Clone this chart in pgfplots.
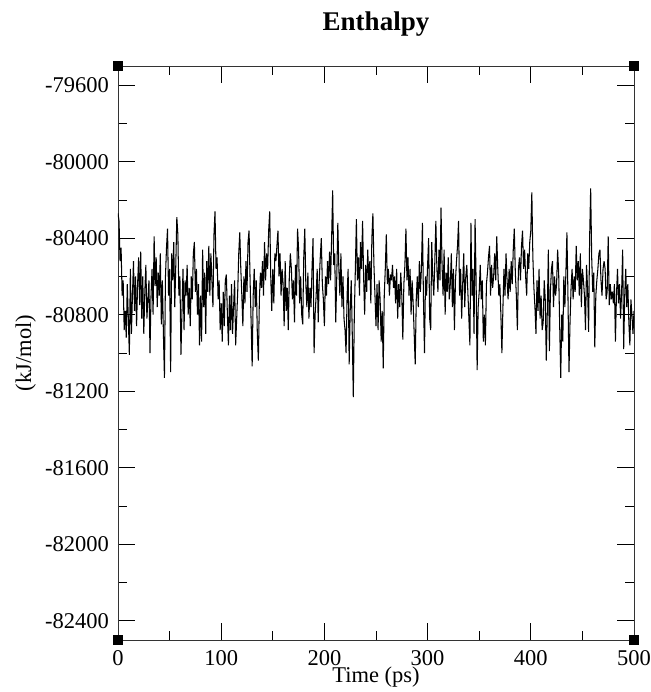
\documentclass[border=0pt]{standalone}
\usepackage{fontspec}
\setmainfont{Liberation Serif}
\usepackage{pgfplots}
\pgfplotsset{compat=1.18}
\begin{document}
\begin{tikzpicture}
\begin{axis}[
  name=ax,
  at={(0,0)}, anchor=south west,
  scale only axis,
  width=516pt, height=574pt,
  xmin=0, xmax=500, ymin=-82500, ymax=-79500,
  xtick={0,100,...,500},
  ytick={-82400,-82000,-81600,-81200,-80800,-80400,-80000,-79600},
  minor x tick num=1, minor y tick num=1,
  tick align=inside,
  major tick length=17pt, minor tick length=9pt,
  every tick/.style={black, line width=0.8pt},
  axis line style={line width=0.8pt, black!80},
  /pgf/number format/assume math mode=true,
  /pgf/number format/set thousands separator={},
  scaled y ticks=false,
  tick label style={font=\fontsize{22.5}{27}\selectfont},
  xticklabel style={anchor=base, yshift=-25pt},
  yticklabel style={anchor=east, inner sep=0pt, xshift=-9pt},
  title={Enthalpy},
  title style={font=\bfseries\fontsize{27}{32}\selectfont, at={(axis description cs:0.5,1.0505)}, anchor=base},
  xlabel={Time (ps)},
  xlabel style={font=\fontsize{22.5}{27}\selectfont, at={(axis description cs:0.5,-0.0745)}, anchor=base},
  ylabel={(kJ/mol)},
  ylabel style={font=\fontsize{22.5}{27}\selectfont, at={(axis description cs:-0.1686,0.5)}, anchor=base},
  clip mode=individual,
]
\addplot[black, line width=1.05pt, line join=miter, miter limit=2] coordinates {
(0,-80270) (1,-80310) (2,-80520) (3,-80450) (4,-80700) (5,-80620) (6,-80880) (7,-80780) (8,-80920) (9,-80640)
(10,-80820) (11,-81010) (12,-80560) (13,-80900) (14,-80700) (15,-80520) (16,-80780) (17,-80600) (18,-80860) (19,-80640)
(20,-80500) (21,-80750) (22,-80470) (23,-80820) (24,-80600) (25,-80900) (26,-80680) (27,-80540) (28,-80820) (29,-80720)
(30,-80620) (31,-81000) (32,-80700) (33,-80560) (34,-80800) (35,-80390) (36,-80650) (37,-80500) (38,-80760) (39,-80580)
(40,-80700) (41,-80480) (42,-80850) (43,-80620) (44,-80900) (45,-81130) (46,-80600) (47,-80450) (48,-80350) (49,-80700)
(50,-80560) (51,-81100) (52,-80480) (53,-80620) (54,-80420) (55,-80760) (56,-80540) (57,-80290) (58,-80380) (59,-80700)
(60,-80600) (61,-81010) (62,-80780) (63,-80560) (64,-80880) (65,-80620) (66,-80700) (67,-80540) (68,-80800) (69,-80660)
(70,-80860) (71,-80600) (72,-80720) (73,-80480) (74,-80420) (75,-80680) (76,-80560) (77,-80800) (78,-80640) (79,-80960)
(80,-80700) (81,-80940) (82,-80460) (83,-80760) (84,-80580) (85,-80900) (86,-80520) (87,-80680) (88,-80440) (89,-80700)
(90,-80480) (91,-80620) (92,-80760) (93,-80380) (94,-80260) (95,-80560) (96,-80500) (97,-80720) (98,-80620) (99,-80880)
(100,-80740) (101,-80940) (102,-80680) (103,-80860) (104,-80620) (105,-80590) (106,-80800) (107,-80960) (108,-80700) (109,-80880)
(110,-80640) (111,-80900) (112,-80760) (113,-80620) (114,-80960) (115,-80820) (116,-80680) (117,-80480) (118,-80370) (119,-80560)
(120,-80700) (121,-80860) (122,-80600) (123,-80740) (124,-80520) (125,-80680) (126,-80420) (127,-80360) (128,-80620) (129,-80840)
(130,-81070) (131,-80700) (132,-80560) (133,-80760) (134,-80620) (135,-80900) (136,-81040) (137,-80720) (138,-80580) (139,-80660)
(140,-80520) (141,-80700) (142,-80420) (143,-80620) (144,-80480) (145,-80560) (146,-80360) (147,-80260) (148,-80600) (149,-80780)
(150,-80560) (151,-80740) (152,-80480) (153,-80520) (154,-80440) (155,-80360) (156,-80600) (157,-80480) (158,-80700) (159,-80560)
(160,-80640) (161,-80860) (162,-80520) (163,-80780) (164,-80660) (165,-80880) (166,-80600) (167,-80480) (168,-80560) (169,-80720)
(170,-80620) (171,-80840) (172,-80540) (173,-80700) (174,-80350) (175,-80460) (176,-80740) (177,-80600) (178,-80800) (179,-80850)
(180,-80500) (181,-80350) (182,-80640) (183,-80760) (184,-80580) (185,-80820) (186,-80660) (187,-80760) (188,-80560) (189,-80400)
(190,-81000) (191,-80800) (192,-80700) (193,-80560) (194,-80840) (195,-80620) (196,-80500) (197,-80400) (198,-80640) (199,-80720)
(200,-80860) (201,-80600) (202,-80700) (203,-80520) (204,-80640) (205,-80470) (206,-80620) (207,-80400) (208,-80150) (209,-80540)
(210,-80480) (211,-80840) (212,-80600) (213,-80320) (214,-80560) (215,-80700) (216,-80480) (217,-80760) (218,-80600) (219,-80820)
(220,-80880) (221,-81000) (222,-80700) (223,-80560) (224,-81060) (225,-80780) (226,-80620) (227,-80900) (228,-81230) (229,-80800)
(230,-80560) (231,-80300) (232,-80620) (233,-80500) (234,-80700) (235,-80420) (236,-80560) (237,-80310) (238,-80600) (239,-80800)
(240,-80540) (241,-80680) (242,-80460) (243,-80620) (244,-80520) (245,-80740) (246,-80400) (247,-80270) (248,-80540) (249,-80700)
(250,-80860) (251,-80640) (252,-80880) (253,-80620) (254,-80720) (255,-80940) (256,-80780) (257,-81080) (258,-80700) (259,-80560)
(260,-80380) (261,-80640) (262,-80560) (263,-80700) (264,-80590) (265,-80620) (266,-80540) (267,-80660) (268,-80600) (269,-80740)
(270,-80560) (271,-80820) (272,-80640) (273,-80760) (274,-80580) (275,-80700) (276,-80930) (277,-80640) (278,-80540) (279,-80350)
(280,-80620) (281,-80500) (282,-80700) (283,-80560) (284,-80800) (285,-80620) (286,-80740) (287,-80900) (288,-81060) (289,-80720)
(290,-80600) (291,-80760) (292,-80520) (293,-80680) (294,-80560) (295,-80320) (296,-80720) (297,-81000) (298,-80600) (299,-80700)
(300,-80540) (301,-80400) (302,-80820) (303,-80880) (304,-80420) (305,-80600) (306,-80700) (307,-80520) (308,-80310) (309,-80560)
(310,-80680) (311,-80460) (312,-80620) (313,-80240) (314,-80540) (315,-80700) (316,-80460) (317,-80800) (318,-80580) (319,-80680)
(320,-80500) (321,-80720) (322,-80640) (323,-80480) (324,-80760) (325,-80560) (326,-80880) (327,-80620) (328,-80520) (329,-80440)
(330,-80310) (331,-80700) (332,-80560) (333,-80820) (334,-80640) (335,-80480) (336,-80760) (337,-80600) (338,-80540) (339,-80680)
(340,-80820) (341,-80960) (342,-80320) (343,-80700) (344,-80560) (345,-80900) (346,-80300) (347,-80620) (348,-81090) (349,-80760)
(350,-80680) (351,-80540) (352,-80720) (353,-80620) (354,-80940) (355,-80800) (356,-80960) (357,-80640) (358,-80580) (359,-80500)
(360,-80440) (361,-80700) (362,-80540) (363,-80660) (364,-80600) (365,-80480) (366,-80620) (367,-80390) (368,-80560) (369,-80700)
(370,-80640) (371,-80800) (372,-81000) (373,-80760) (374,-80560) (375,-80700) (376,-80480) (377,-80620) (378,-80720) (379,-80560)
(380,-80680) (381,-80520) (382,-80640) (383,-80460) (384,-80350) (385,-80580) (386,-80700) (387,-80880) (388,-80560) (389,-80500)
(390,-80620) (391,-80440) (392,-80360) (393,-80560) (394,-80460) (395,-80600) (396,-80700) (397,-80480) (398,-80560) (399,-80420)
(400,-80360) (401,-80160) (402,-80500) (403,-80660) (404,-80760) (405,-80900) (406,-80620) (407,-80780) (408,-80560) (409,-80820)
(410,-80700) (411,-80880) (412,-80840) (413,-80620) (414,-80720) (415,-81040) (416,-80780) (417,-80460) (418,-80990) (419,-80680)
(420,-80560) (421,-80520) (422,-80760) (423,-80600) (424,-80700) (425,-80640) (426,-80460) (427,-80580) (428,-80860) (429,-81130)
(430,-80800) (431,-80940) (432,-80600) (433,-80760) (434,-80580) (435,-80370) (436,-80700) (437,-81100) (438,-80840) (439,-80660)
(440,-80560) (441,-80720) (442,-80600) (443,-80680) (444,-80440) (445,-80620) (446,-80520) (447,-80700) (448,-80480) (449,-80760)
(450,-80560) (451,-80620) (452,-80700) (453,-80880) (454,-80540) (455,-80660) (456,-80890) (457,-80400) (458,-80140) (459,-80500)
(460,-80680) (461,-80580) (462,-80970) (463,-80700) (464,-80620) (465,-80560) (466,-80480) (467,-80460) (468,-80620) (469,-80700)
(470,-80560) (471,-80520) (472,-80560) (473,-80720) (474,-80680) (475,-80390) (476,-80750) (477,-80640) (478,-80720) (479,-80680)
(480,-80740) (481,-80640) (482,-80940) (483,-80700) (484,-80560) (485,-80740) (486,-80640) (487,-80820) (488,-80680) (489,-80460)
(490,-80980) (491,-80700) (492,-80560) (493,-80760) (494,-80640) (495,-80840) (496,-80960) (497,-80720) (498,-80800) (499,-80900)
(500,-80780)
};
\addplot[only marks, mark=square*, mark size=4.5pt, black, clip=false] coordinates {
(0,-79500) (500,-79500) (0,-82500) (500,-82500)
};
\end{axis}
\pgfresetboundingbox
\path[use as bounding box] ([shift={(-118pt,-52pt)}]ax.south west) rectangle ([shift={(16pt,66pt)}]ax.north east);
\end{tikzpicture}
\end{document}
